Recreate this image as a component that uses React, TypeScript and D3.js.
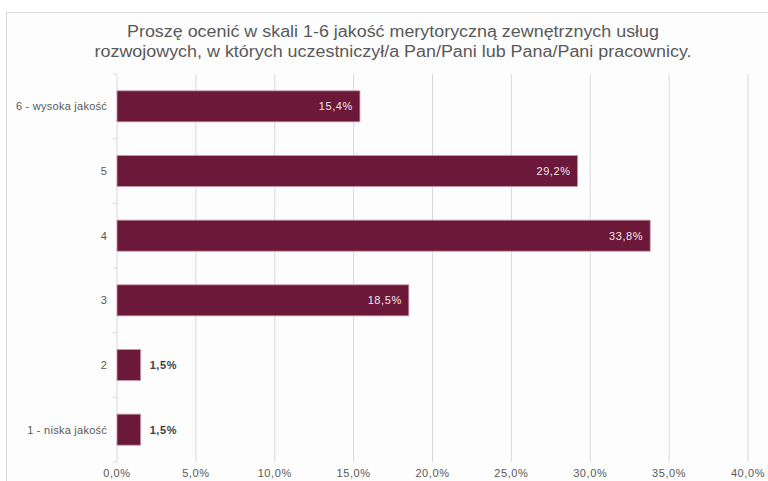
import React from "react";
import * as d3 from "d3";

const categories = ["6 - wysoka jakość", "5", "4", "3", "2", "1 - niska jakość"];
const values = [15.4, 29.2, 33.8, 18.5, 1.5, 1.5];
const xTicks = [0, 5, 10, 15, 20, 25, 30, 35, 40];
const titleLines = [
  "Proszę ocenić w skali 1-6 jakość merytoryczną zewnętrznych usług",
  "rozwojowych, w których uczestniczył/a Pan/Pani lub Pana/Pani pracownicy.",
];
const titleWidths = [532, 597];

const W = 768;
const H = 481;
const left = 117;
const right = 748;
const top = 74;
const bottom = 462;

const fmt = (v: number) => v.toFixed(1).replace(".", ",") + "%";

export default function App() {
  const x = d3.scaleLinear().domain([0, 40]).range([left, right]);
  const y = d3.scaleBand<string>().domain(categories).range([top, bottom]).paddingInner(0.52).paddingOuter(0.26);
  const step = y.step();
  const font = "'Liberation Sans', Arial, sans-serif";
  return (
    <svg width={W} height={H} style={{ position: "absolute", left: 0, top: 0 }} fontFamily={font}>
      <rect x={0} y={0} width={W} height={H} fill="#ffffff" />
      <rect x={6.5} y={12.5} width={W + 20} height={H + 20} fill="#fdfdfd" stroke="#d9d9d9" strokeWidth={1} />
      {titleLines.map((t, i) => (
        <text
          key={i}
          x={393}
          y={37 + i * 20}
          textAnchor="middle"
          fontSize={16}
          fill="#595959"
          textLength={titleWidths[i]}
          lengthAdjust="spacingAndGlyphs"
        >
          {t}
        </text>
      ))}
      {xTicks.map((t) => (
        <g key={t}>
          <line x1={x(t)} x2={x(t)} y1={top} y2={bottom} stroke="#d9d9d9" strokeWidth={1} />
          <text x={x(t)} y={477} textAnchor="middle" fontSize={11} fill="#595959" letterSpacing={0.6}>
            {fmt(t)}
          </text>
        </g>
      ))}
      {d3.range(categories.length + 1).map((i) => (
        <line key={i} x1={left - 4} x2={left} y1={top + i * step} y2={top + i * step} stroke="#d9d9d9" />
      ))}
      {categories.map((c, i) => {
        const yy = y(c)!;
        const bw = y.bandwidth();
        const v = values[i];
        const inside = v > 5;
        return (
          <g key={c}>
            <text x={107} y={yy + bw / 2 + 4} textAnchor="end" fontSize={11} fill="#595959" letterSpacing={0.25}>
              {c}
            </text>
            <rect x={x(0)} y={yy} width={x(v) - x(0)} height={bw} fill="#6b1839" stroke="#c99aae" strokeWidth={0.8} />
            <text
              x={inside ? x(v) - 7 : x(v) + 9}
              y={yy + bw / 2 + 4}
              textAnchor={inside ? "end" : "start"}
              fontSize={11}
              fill={inside ? "#f2e6ea" : "#404040"}
              fontWeight={inside ? "normal" : "bold"}
              letterSpacing={0.6}
            >
              {fmt(v)}
            </text>
          </g>
        );
      })}
    </svg>
  );
}
